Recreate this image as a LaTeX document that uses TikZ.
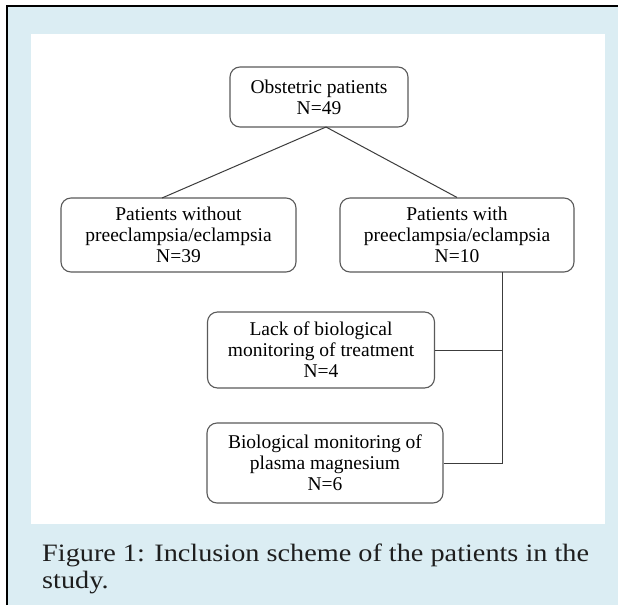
\documentclass[tikz,border=0pt]{standalone}
\usepackage{fontspec}
\setmainfont{Liberation Serif}
\newfontfamily\capfont[FakeStretch=1.13]{Liberation Serif}
\definecolor{bgblue}{RGB}{219,237,243}
\definecolor{boxline}{RGB}{90,90,90}
\definecolor{conline}{RGB}{60,60,60}
\definecolor{captext}{RGB}{30,30,30}
\tikzset{
  flowbox/.style={draw=boxline, line width=1.1pt, rounded corners=10pt, fill=white,
    align=center, inner sep=0pt, font=\fontsize{19.5}{21}\selectfont, text=black},
  conn/.style={draw=conline, line width=1pt}
}
\begin{document}
\begin{tikzpicture}[x=1pt,y=-1pt]
\useasboundingbox (0,0) rectangle (618,605);
\fill[bgblue] (7,6) rectangle (618,605);
\fill[white] (31,34) rectangle (605,524);
\draw[black, line width=2.5pt] (7,605) -- (7,6) -- (618,6);

\node[flowbox, minimum width=178pt, minimum height=60pt] (obst) at (319,97) {Obstetric patients\\N=49};
\node[flowbox, minimum width=235pt, minimum height=74pt] (without) at (178.5,235) {Patients without\\preeclampsia/eclampsia\\N=39};
\node[flowbox, minimum width=234pt, minimum height=74pt] (with) at (457,235) {Patients with\\preeclampsia/eclampsia\\N=10};
\node[flowbox, minimum width=227pt, minimum height=76pt] (lack) at (321,350) {Lack of biological\\monitoring of treatment\\N=4};
\node[flowbox, minimum width=236pt, minimum height=80pt] (bio) at (325,463) {Biological monitoring of\\plasma magnesium\\N=6};

\coordinate (apex) at (326,127);
\coordinate (wotop) at (162,198);
\coordinate (vtop) at (502,272);
\coordinate (vlack) at (502,350);
\coordinate (vbio) at (502,463);

\draw[conn] (apex) -- (wotop);
\draw[conn] (apex) -- (with.north);
\draw[conn] (vtop) -- (vbio) -- (bio.east);
\draw[conn] (lack.east) -- (vlack);

\node[anchor=base west, inner sep=0pt, align=left, text=captext,
  font=\capfont\fontsize{25}{27}\selectfont] (caption) at (42,588)
  {Figure 1: Inclusion scheme of the patients in the\\study.};
\end{tikzpicture}
\end{document}
